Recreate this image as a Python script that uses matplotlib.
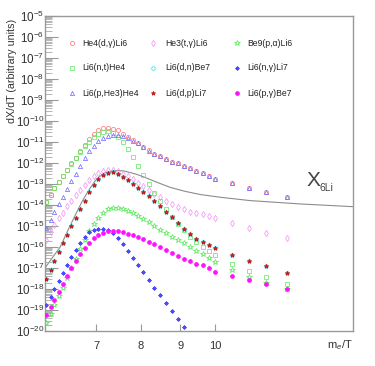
import numpy as np
import matplotlib
matplotlib.use('Agg')
import matplotlib.pyplot as plt
from matplotlib.ticker import FixedLocator, NullLocator, LogLocator, NullFormatter

plt.rcParams['font.family'] = ['Liberation Sans', 'DejaVu Sans']
plt.rcParams['mathtext.fontset'] = 'custom'
plt.rcParams['mathtext.rm'] = 'Liberation Sans'
plt.rcParams['mathtext.it'] = 'Liberation Sans:italic'

# m_e/T sample points
x = [6.02, 6.10, 6.17, 6.25, 6.33, 6.41, 6.49, 6.58, 6.67, 6.76, 6.85, 6.94,
     7.04, 7.14, 7.25, 7.35, 7.46, 7.58, 7.69, 7.81, 7.94, 8.06, 8.20, 8.33,
     8.47, 8.62, 8.77, 8.93, 9.09, 9.26, 9.43, 9.62, 9.80, 10.0, 10.5, 11.05,
     11.65, 12.4]

# log10 of dX/dT for each reaction
he4_dg = [-13.86, -13.52, -13.21, -12.90, -12.62, -12.33, -12.02, -11.74, -11.43,
          -11.14, -10.88, -10.64, -10.45, -10.33, -10.31, -10.36, -10.45, -10.60,
          -10.74, -10.90, -11.07, -11.24, -11.40, -11.55, -11.69, -11.81, -11.93,
          -12.02, -12.14, -12.26, -12.38, -12.48, -12.62, -12.74, -12.97, -13.18,
          -13.37, -13.60]
li6_nt = [-13.86, -13.52, -13.21, -12.90, -12.62, -12.33, -12.05, -11.76, -11.48,
          -11.21, -10.98, -10.76, -10.60, -10.50, -10.48, -10.55, -10.74, -11.00,
          -11.33, -11.71, -12.14, -12.57, -13.00, -13.43, -13.83, -14.21, -14.57,
          -14.90, -15.21, -15.50, -15.76, -16.00, -16.19, -16.38, -16.81, -17.14,
          -17.44, -17.78]
li6_ph3 = [-15.10, -14.71, -14.33, -13.95, -13.60, -13.24, -12.86, -12.50, -12.12,
           -11.76, -11.43, -11.17, -10.95, -10.81, -10.71, -10.67, -10.67, -10.71,
           -10.79, -10.93, -11.07, -11.26, -11.43, -11.57, -11.69, -11.81, -11.93,
           -12.02, -12.14, -12.26, -12.38, -12.48, -12.62, -12.74, -12.97, -13.18,
           -13.37, -13.60]
he3_tg = [-15.67, -15.29, -14.95, -14.64, -14.36, -14.07, -13.79, -13.52, -13.29,
          -13.05, -12.81, -12.62, -12.48, -12.36, -12.31, -12.31, -12.38, -12.50,
          -12.62, -12.76, -12.93, -13.10, -13.29, -13.48, -13.64, -13.81, -13.95,
          -14.10, -14.21, -14.31, -14.38, -14.45, -14.52, -14.62, -14.87, -15.11,
          -15.32, -15.56]
li6_dp = [-17.52, -17.10, -16.67, -16.24, -15.83, -15.43, -15.00, -14.60, -14.19,
          -13.79, -13.38, -13.05, -12.76, -12.57, -12.48, -12.45, -12.52, -12.67,
          -12.83, -13.02, -13.21, -13.40, -13.57, -13.81, -14.07, -14.31, -14.57,
          -14.86, -15.14, -15.38, -15.60, -15.76, -15.90, -16.06, -16.38, -16.67,
          -16.90, -17.22]
li6_dn = list(li6_dp)
be9_pa = [-19.62, -19.19, -18.76, -18.33, -17.93, -17.48, -17.00, -16.57, -16.10,
          -15.67, -15.26, -14.90, -14.60, -14.36, -14.21, -14.14, -14.14, -14.19,
          -14.29, -14.40, -14.52, -14.67, -14.83, -15.00, -15.17, -15.33, -15.50,
          -15.67, -15.83, -16.00, -16.17, -16.33, -16.52, -16.71, -17.10, -17.43,
          -17.71, -18.00]
li6_ng = [-18.76, -18.38, -18.00, -17.64, -17.24, -16.86, -16.48, -16.12, -15.79,
          -15.50, -15.29, -15.17, -15.12, -15.12, -15.19, -15.33, -15.57, -15.86,
          -16.19, -16.52, -16.86, -17.21, -17.57, -17.93, -18.29, -18.67, -19.05,
          -19.43, -19.81, -20.19]
li6_pg = [-19.24, -18.86, -18.50, -18.14, -17.76, -17.38, -17.02, -16.67, -16.33,
          -16.05, -15.79, -15.57, -15.43, -15.33, -15.26, -15.24, -15.24, -15.29,
          -15.36, -15.43, -15.52, -15.62, -15.74, -15.86, -16.00, -16.14, -16.29,
          -16.43, -16.57, -16.69, -16.79, -16.88, -17.02, -17.17, -17.38, -17.57,
          -17.76, -18.00]

# X_6Li curve
x_line = [6.0, 6.13, 6.28, 6.42, 6.57, 6.71, 6.87, 6.97, 7.08, 7.20, 7.33, 7.47,
          7.60, 7.74, 7.91, 8.05, 8.34, 8.73, 9.13, 9.55, 10.14, 11.09, 12.89, 15.1]
y_line = [-17.0, -16.52, -16.0, -15.24, -14.48, -13.81, -13.19, -12.86, -12.62,
          -12.45, -12.38, -12.36, -12.38, -12.45, -12.55, -12.65, -12.88, -13.16,
          -13.35, -13.50, -13.63, -13.79, -13.95, -14.08]

series = [
    ('He4(d,\u03b3)Li6', he4_dg, dict(marker='o', mfc='none', mec='#ff6e6e', ms=3.0)),
    ('He3(t,\u03b3)Li6', he3_tg, dict(marker='d', mfc='none', mec='#f58cf5', ms=3.2)),
    ('Be9(p,\u03b1)Li6', be9_pa, dict(marker='*', mfc='none', mec='#4be84b', ms=3.8)),
    ('Li6(n,t)He4', li6_nt, dict(marker='s', mfc='none', mec='#5ce65c', ms=2.8)),
    ('Li6(d,n)Be7', li6_dn, dict(marker='P', mfc='none', mec='#66e6e6', ms=3.4)),
    ('Li6(n,\u03b3)Li7', li6_ng, dict(marker=(8, 2, 0), mfc='#3a3aff', mec='#4a4aff', ms=3.0)),
    ('Li6(p,He3)He4', li6_ph3, dict(marker='^', mfc='none', mec='#6464ff', ms=3.0)),
    ('Li6(d,p)Li7', li6_dp, dict(marker='*', mfc='#e01818', mec='#c01010', ms=3.2)),
    ('Li6(p,\u03b3)Be7', li6_pg, dict(marker='o', mfc='#ff10ff', mec='#ff10ff', ms=2.8)),
]
draw_order = [3, 0, 6, 1, 4, 7, 2, 5, 8]

fig = plt.figure(figsize=(3.75, 3.66), dpi=100)
ax = fig.add_axes([45 / 375, 35 / 366, 308 / 375, 315 / 366])

ax.plot(x_line, 10.0 ** np.array(y_line), color='#8c8c8c', lw=0.8, zorder=1)
for i in draw_order:
    label, vals, st = series[i]
    ax.plot(x[:len(vals)], 10.0 ** np.array(vals), ls='none', mew=0.5, zorder=2 + i, **st)

ax.set_xscale('log')
ax.set_yscale('log')
ax.set_xlim(6, 15.1)
ax.set_ylim(1e-20, 1e-5)

ax.xaxis.set_major_locator(FixedLocator([7, 8, 9, 10]))
ax.xaxis.set_minor_locator(NullLocator())
ax.set_xticklabels(['7', '8', '9', '10'])
ax.yaxis.set_major_locator(FixedLocator([10.0 ** k for k in range(-20, -4)]))
ax.set_yticklabels([r'$10^{%d}$' % k for k in range(-20, -4)])
ax.yaxis.set_minor_locator(LogLocator(base=10, subs=np.arange(2, 10), numticks=100))
ax.yaxis.set_minor_formatter(NullFormatter())
ax.tick_params(axis='y', which='major', direction='in', length=9, width=0.8,
               color='#999999', labelsize=8.4, pad=0.5, labelcolor='#333333')
ax.tick_params(axis='y', which='minor', direction='in', length=5, width=0.6,
               color='#aaaaaa')
ax.tick_params(axis='x', which='major', direction='in', length=5, width=0.8,
               color='#999999', labelsize=8, pad=7, labelcolor='#333333')
for s in ax.spines.values():
    s.set_color('#999999')
    s.set_linewidth(1.0)

# legend, three columns
mx = [71.7, 153.3, 236.7]
tx = [82.3, 165.0, 247.3]
ry = [43, 68, 93]
for i, (label, vals, st) in enumerate(series):
    r, c = divmod(i, 3)
    fig.lines.append(plt.Line2D([mx[c] / 375], [1 - ry[r] / 366], transform=fig.transFigure,
                                ls='none', mew=0.5, **st))
    fig.text(tx[c] / 375, 1 - ry[r] / 366, label, fontsize=6.2, ha='left', va='center',
             color='#222222')

fig.text(12 / 375, 1 - 19 / 366, 'dX/dT (arbitrary units)', rotation=90, ha='center',
         va='top', fontsize=7.7, color='#333333')
fig.text(353 / 375, 1 - 345 / 366, r'm$_{e}$/T', ha='right', va='center', fontsize=8,
         color='#333333')
fig.text(307 / 375, 1 - 180 / 366, 'X', ha='left', va='center', fontsize=15, color='#444444')
fig.text(320 / 375, 1 - 188 / 366, '6Li', ha='left', va='center', fontsize=7.5,
         color='#444444')

fig.savefig('out.png', dpi=100)
